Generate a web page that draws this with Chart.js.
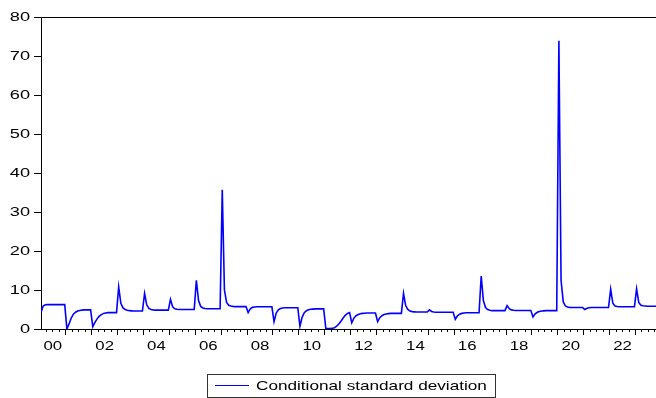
<!DOCTYPE html>
<html><head><meta charset="utf-8">
<script src="https://cdn.jsdelivr.net/npm/chart.js@4/dist/chart.umd.min.js"></script>
<style>html,body{margin:0;padding:0;background:#fff;}canvas{display:block;}</style>
</head><body>
<canvas id="c" width="656" height="398"></canvas>
<script>
// ---------- data ----------
const startYear = 2000;              // monthly observations from 2000M01
const seriesLabel = 'Conditional standard deviation';
const yTickValues = [0, 10, 20, 30, 40, 50, 60, 70, 80];
const xTickLabels = ['00', '02', '04', '06', '08', '10', '12', '14', '16', '18', '20', '22'];
const condSD = [
  4.2, 5.9, 6.2, 6.25, 6.25, 6.25, 6.25, 6.25, 6.25, 6.25, 6.25, 6.25,      // 2000
  0.0, 1.3, 2.8, 3.8, 4.3, 4.6, 4.75, 4.85, 4.9, 4.9, 4.9, 4.9,             // 2001
  0.6, 1.7, 2.6, 3.3, 3.7, 4.0, 4.1, 4.2, 4.2, 4.2, 4.2, 4.2,               // 2002
  10.8, 6.6, 5.4, 5.0, 4.8, 4.7, 4.65, 4.6, 4.6, 4.6, 4.6, 4.6,             // 2003
  9.1, 6.2, 5.3, 5.0, 4.9, 4.85, 4.85, 4.85, 4.85, 4.85, 4.85, 4.85,        // 2004
  7.6, 5.7, 5.2, 5.05, 5.0, 5.0, 5.0, 5.0, 5.0, 5.0, 5.0, 5.0,              // 2005
  12.5, 7.3, 5.8, 5.4, 5.25, 5.2, 5.2, 5.2, 5.2, 5.2, 5.2, 5.2,             // 2006
  35.7, 10.0, 6.8, 6.1, 5.9, 5.8, 5.75, 5.75, 5.75, 5.75, 5.75, 5.75,       // 2007
  4.2, 5.2, 5.55, 5.65, 5.7, 5.7, 5.7, 5.7, 5.7, 5.7, 5.7, 5.7,             // 2008
  1.9, 4.1, 4.9, 5.25, 5.4, 5.45, 5.45, 5.45, 5.45, 5.45, 5.45, 5.45,       // 2009
  0.7, 3.0, 4.2, 4.7, 4.95, 5.05, 5.1, 5.15, 5.15, 5.15, 5.15, 5.15,        // 2010
  0.1, 0.1, 0.1, 0.2, 0.3, 0.7, 1.3, 2.0, 2.8, 3.5, 4.0, 4.2,               // 2011
  1.6, 2.8, 3.4, 3.7, 3.9, 4.0, 4.05, 4.1, 4.1, 4.1, 4.1, 4.1,              // 2012
  1.9, 2.9, 3.4, 3.7, 3.85, 3.95, 4.0, 4.0, 4.0, 4.0, 4.0, 4.0,             // 2013
  9.1, 6.0, 5.0, 4.6, 4.45, 4.4, 4.35, 4.35, 4.35, 4.35, 4.35, 4.35,        // 2014
  4.9, 4.5, 4.35, 4.3, 4.3, 4.3, 4.3, 4.3, 4.3, 4.3, 4.3, 4.3,              // 2015
  2.5, 3.4, 3.8, 4.0, 4.1, 4.15, 4.15, 4.15, 4.15, 4.15, 4.15, 4.15,        // 2016
  13.6, 7.3, 5.5, 5.0, 4.8, 4.7, 4.7, 4.7, 4.7, 4.7, 4.7, 4.7,              // 2017
  6.0, 5.2, 4.9, 4.8, 4.75, 4.75, 4.75, 4.75, 4.75, 4.75, 4.75, 4.75,       // 2018
  3.1, 3.9, 4.3, 4.5, 4.6, 4.65, 4.7, 4.7, 4.7, 4.7, 4.7, 4.7,              // 2019
  73.9, 12.5, 7.0, 5.9, 5.65, 5.55, 5.5, 5.5, 5.5, 5.5, 5.5, 5.5,           // 2020
  5.0, 5.3, 5.45, 5.5, 5.5, 5.5, 5.5, 5.5, 5.5, 5.5, 5.5, 5.5,              // 2021
  10.2, 6.6, 5.9, 5.75, 5.7, 5.7, 5.7, 5.7, 5.7, 5.7, 5.7, 5.7,             // 2022
  10.3, 6.8, 6.1, 5.95, 5.9, 5.85, 5.85, 5.85, 5.85, 5.85                   // 2023 (to Oct)
];

// ---------- rendering ----------
// The reference uses horizontally widened glyphs; emulate by stretching text.
let textStretch = 1.4;
const nativeFillText = CanvasRenderingContext2D.prototype.fillText;
CanvasRenderingContext2D.prototype.fillText = function (t, x, y, mw) {
  this.save();
  this.translate(x, y);
  this.scale(textStretch, 1);
  if (mw === undefined || mw === null) nativeFillText.call(this, t, 0, 0);
  else nativeFillText.call(this, t, 0, 0, mw / textStretch);
  this.restore();
};

const xMax = condSD.length - 1;
const FONT = '"Liberation Sans", Arial, sans-serif';

const boxLegend = {
  id: 'boxLegend',
  afterDraw(chart) {
    const ctx = chart.ctx;
    const ds = chart.data.datasets[0];
    ctx.save();
    ctx.lineWidth = 1;
    ctx.strokeStyle = '#333';
    ctx.strokeRect(207.5, 374.5, 288, 23);
    ctx.strokeStyle = ds.borderColor;
    ctx.beginPath();
    ctx.moveTo(215, 385.5);
    ctx.lineTo(249, 385.5);
    ctx.stroke();
    ctx.fillStyle = '#000';
    ctx.font = '13px ' + FONT;
    ctx.textAlign = 'left';
    ctx.textBaseline = 'middle';
    textStretch = 1.32;
    ctx.fillText(ds.label, 256, 386);
    textStretch = 1.4;
    ctx.restore();
  }
};

new Chart(document.getElementById('c'), {
  type: 'line',
  data: {
    datasets: [{
      label: seriesLabel,
      data: condSD.map((v, i) => ({ x: i, y: v })),
      borderColor: '#0000FF',
      borderWidth: 1.6,
      pointRadius: 0,
      tension: 0,
      fill: false,
      xAxisID: 'x',
      yAxisID: 'y'
    }]
  },
  options: {
    responsive: false,
    animation: false,
    devicePixelRatio: 1,
    layout: { padding: 0 },
    plugins: { legend: { display: false }, tooltip: { enabled: false } },
    scales: {
      x: {
        type: 'linear', position: 'bottom', min: 0, max: xMax, weight: 0,
        afterBuildTicks(s) {
          const t = [];
          for (let v = 11.5; v <= xMax; v += 12) t.push({ value: v });
          s.ticks = t;
        },
        afterFit(s) { s.height = 0; },
        ticks: { display: false },
        grid: { drawOnChartArea: false, drawTicks: true, tickLength: 6, color: '#000', lineWidth: 1 },
        border: { display: true, color: '#000', width: 1 }
      },
      xm: {
        type: 'linear', axis: 'x', position: 'bottom', min: 0, max: xMax, weight: 1,
        afterBuildTicks(s) {
          const t = [];
          for (let v = 2.5; v <= xMax; v += 3) if ((v + 0.5) % 12 !== 0) t.push({ value: v });
          s.ticks = t;
        },
        afterFit(s) { s.height = 0; },
        ticks: { display: false },
        grid: { drawOnChartArea: false, drawTicks: true, tickLength: 3, color: '#000', lineWidth: 1 },
        border: { display: false }
      },
      xl: {
        type: 'linear', axis: 'x', position: 'bottom', min: 0, max: xMax, weight: 2,
        afterBuildTicks(s) { s.ticks = xTickLabels.map((lab, i) => ({ value: 24 * i + 5.5 })); },
        afterFit(s) { s.height = 69; },
        ticks: {
          font: { family: FONT, size: 12 }, color: '#000', padding: 10,
          maxRotation: 0, autoSkip: false,
          callback: (v, i) => xTickLabels[i]
        },
        grid: { display: false, drawTicks: false },
        border: { display: false }
      },
      xt: {
        type: 'linear', axis: 'x', position: 'top', min: 0, max: xMax,
        afterFit(s) { s.height = 17; },
        ticks: { display: false },
        grid: { drawOnChartArea: false, drawTicks: false },
        border: { display: true, color: '#000', width: 1 }
      },
      y: {
        type: 'linear', position: 'left', min: 0, max: 80,
        afterBuildTicks(s) { s.ticks = yTickValues.map(v => ({ value: v })); },
        afterFit(s) { s.width = 41; },
        ticks: { font: { family: FONT, size: 13 }, color: '#000', padding: 4 },
        grid: { drawOnChartArea: false, tickLength: 7, color: '#000', lineWidth: 1 },
        border: { display: true, color: '#000', width: 1 }
      }
    }
  },
  plugins: [boxLegend]
});
</script>
</body></html>
